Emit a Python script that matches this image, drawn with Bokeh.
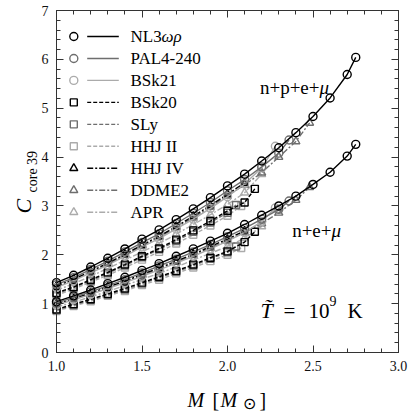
from math import pi
from bokeh.plotting import figure
from bokeh.models import (Range1d, SingleIntervalTicker, LinearAxis, PrintfTickFormatter,
                          Label, CustomJSTickFormatter)
from bokeh.embed import file_html
from bokeh.resources import INLINE

# ---------------- data ----------------
eos_names = ["NL3ωρ", "PAL4-240", "BSk21", "BSk20", "SLy", "HHJ II", "HHJ IV", "DDME2", "APR"]

mass_nl3 = [1.0, 1.1, 1.2, 1.3, 1.4, 1.5, 1.6, 1.7, 1.8, 1.9, 2.0, 2.1, 2.2, 2.3, 2.4, 2.5, 2.6, 2.7, 2.75]
mass_pal4 = [1.0, 1.1, 1.2, 1.3, 1.4, 1.5, 1.6, 1.7, 1.8, 1.9, 2.0, 2.1, 2.2, 2.3, 2.36]
mass_bsk21 = [1.0, 1.1, 1.2, 1.3, 1.4, 1.5, 1.6, 1.7, 1.8, 1.9, 2.0, 2.1, 2.2, 2.28]
mass_bsk20 = [1.0, 1.1, 1.2, 1.3, 1.4, 1.5, 1.6, 1.7, 1.8, 1.9, 2.0, 2.1, 2.16]
mass_sly = [1.0, 1.1, 1.2, 1.3, 1.4, 1.5, 1.6, 1.7, 1.8, 1.9, 2.0, 2.05]
mass_hhj2 = [1.0, 1.1, 1.2, 1.3, 1.4, 1.5, 1.6, 1.7, 1.8, 1.9, 2.0, 2.08]
mass_hhj4 = [1.0, 1.1, 1.2, 1.3, 1.4, 1.5, 1.6, 1.7, 1.8, 1.9, 2.0, 2.1]
mass_ddme2 = [1.0, 1.1, 1.2, 1.3, 1.4, 1.5, 1.6, 1.7, 1.8, 1.9, 2.0, 2.1, 2.2, 2.3, 2.4, 2.48]
mass_apr = [1.0, 1.1, 1.2, 1.3, 1.4, 1.5, 1.6, 1.7, 1.8, 1.9, 2.0, 2.1, 2.2]

# C_core39 for n+p+e+mu
c_npemu_nl3 = [1.43, 1.58, 1.75, 1.93, 2.12, 2.32, 2.51, 2.72, 2.94, 3.17, 3.41, 3.65, 3.92, 4.19, 4.50, 4.83, 5.21, 5.69, 6.04]
c_npemu_pal4 = [1.39, 1.53, 1.70, 1.87, 2.06, 2.25, 2.43, 2.64, 2.85, 3.07, 3.31, 3.54, 3.80, 4.08, 4.35]
c_npemu_bsk21 = [1.33, 1.47, 1.63, 1.79, 1.97, 2.16, 2.33, 2.53, 2.73, 2.95, 3.19, 3.45, 3.78, 4.22]
c_npemu_bsk20 = [1.22, 1.34, 1.49, 1.64, 1.80, 1.97, 2.13, 2.31, 2.50, 2.69, 2.90, 3.07, 3.35]
c_npemu_sly = [1.20, 1.33, 1.47, 1.62, 1.78, 1.95, 2.11, 2.28, 2.47, 2.66, 2.86, 3.02]
c_npemu_hhj2 = [1.17, 1.30, 1.44, 1.58, 1.74, 1.90, 2.06, 2.23, 2.41, 2.60, 2.80, 3.00]
c_npemu_hhj4 = [1.36, 1.50, 1.66, 1.83, 2.01, 2.20, 2.38, 2.58, 2.79, 3.01, 3.24, 3.47]
c_npemu_ddme2 = [1.34, 1.49, 1.65, 1.81, 1.99, 2.18, 2.36, 2.56, 2.76, 2.98, 3.21, 3.43, 3.68, 4.00, 4.32, 4.70]
c_npemu_apr = [1.27, 1.41, 1.56, 1.72, 1.89, 2.06, 2.23, 2.42, 2.62, 2.82, 3.03, 3.27, 3.65]

# C_core39 for n+e+mu
c_nemu_nl3 = [1.04, 1.16, 1.28, 1.41, 1.54, 1.68, 1.82, 1.97, 2.12, 2.28, 2.44, 2.62, 2.81, 3.00, 3.20, 3.44, 3.69, 4.02, 4.26]
c_nemu_pal4 = [1.01, 1.13, 1.24, 1.37, 1.49, 1.63, 1.77, 1.91, 2.06, 2.21, 2.37, 2.54, 2.73, 2.93, 3.10]
c_nemu_bsk21 = [0.97, 1.08, 1.19, 1.31, 1.43, 1.56, 1.69, 1.83, 1.97, 2.12, 2.28, 2.46, 2.68, 2.96]
c_nemu_bsk20 = [0.88, 0.99, 1.09, 1.20, 1.31, 1.43, 1.55, 1.67, 1.80, 1.94, 2.07, 2.26, 2.47]
c_nemu_sly = [0.87, 0.97, 1.08, 1.18, 1.29, 1.41, 1.53, 1.65, 1.78, 1.92, 2.05, 2.17]
c_nemu_hhj2 = [0.85, 0.95, 1.05, 1.16, 1.26, 1.38, 1.49, 1.62, 1.74, 1.87, 2.00, 2.14]
c_nemu_hhj4 = [0.99, 1.10, 1.22, 1.34, 1.46, 1.60, 1.73, 1.87, 2.01, 2.17, 2.32, 2.49]
c_nemu_ddme2 = [0.98, 1.09, 1.20, 1.33, 1.45, 1.58, 1.71, 1.85, 1.99, 2.14, 2.29, 2.46, 2.64, 2.86, 3.12, 3.38]
c_nemu_apr = [0.93, 1.03, 1.14, 1.25, 1.37, 1.50, 1.62, 1.75, 1.89, 2.03, 2.17, 2.34, 2.58]

x_min, x_max, x_tick_step = 1.0, 3.0, 0.5
y_min, y_max, y_tick_step = 0, 7, 1

# ---------------- layout (pixels inside the canvas) ----------------
W = H = 414
FL, FR, FT, FB = 56, 398, 10, 352      # axes box edges in canvas pixels (top-down y)
sx = (x_max - x_min) / (FR - FL)
sy = (y_max - y_min) / (FB - FT)
x_range = Range1d(x_min - FL * sx, x_max + (W - FR) * sx)
y_range = Range1d(y_min - (H - FB) * sy, y_max + FT * sy)

BLACK, GRAY, LIGHT = "#000000", "#6e6e6e", "#ababab"
SOLID, DASH, DASHDOT = "solid", "4 2", "6 2 2 2"
SERIF = "Liberation Serif"
AXC = "#333333"

series = [
    (mass_nl3, c_npemu_nl3, c_nemu_nl3, "circle", BLACK, SOLID),
    (mass_pal4, c_npemu_pal4, c_nemu_pal4, "circle", GRAY, SOLID),
    (mass_bsk21, c_npemu_bsk21, c_nemu_bsk21, "circle", LIGHT, SOLID),
    (mass_bsk20, c_npemu_bsk20, c_nemu_bsk20, "square", BLACK, DASH),
    (mass_sly, c_npemu_sly, c_nemu_sly, "square", GRAY, DASH),
    (mass_hhj2, c_npemu_hhj2, c_nemu_hhj2, "square", LIGHT, DASH),
    (mass_hhj4, c_npemu_hhj4, c_nemu_hhj4, "triangle", BLACK, DASHDOT),
    (mass_ddme2, c_npemu_ddme2, c_nemu_ddme2, "triangle", GRAY, DASHDOT),
    (mass_apr, c_npemu_apr, c_nemu_apr, "triangle", LIGHT, DASHDOT),
]
msize = {"circle": 8, "square": 7, "triangle": 8}

p = figure(width=W, height=H, x_range=x_range, y_range=y_range,
           output_backend="svg", toolbar_location=None,
           min_border=0, x_axis_location=None, y_axis_location=None,
           background_fill_color="white", border_fill_color="white")
p.grid.visible = False
p.outline_line_color = None
# pixel helper ranges: fx = X - FL, fy = FB - Y (Y top-down canvas px)
p.extra_x_ranges = {"px": Range1d(-FL, W - FL)}
p.extra_y_ranges = {"py": Range1d(FB - H, FB)}

def make_axis(loc, fixed, bounds, step, fmt):
    ax = LinearAxis(fixed_location=fixed, bounds=bounds,
                    ticker=SingleIntervalTicker(interval=step, num_minor_ticks=5),
                    formatter=fmt,
                    major_tick_in=7, major_tick_out=0, minor_tick_in=4, minor_tick_out=0,
                    axis_line_color=AXC, major_tick_line_color=AXC, minor_tick_line_color=AXC,
                    major_label_text_font=SERIF, major_label_text_font_size="14px",
                    major_label_text_color="#111111", major_label_standoff=8)
    p.add_layout(ax, loc)
    return ax

blank = CustomJSTickFormatter(code="return ''")
make_axis("below", y_min, (x_min, x_max), x_tick_step, PrintfTickFormatter(format="%.1f"))
make_axis("left", x_min, (y_min, y_max), y_tick_step, PrintfTickFormatter(format="%d"))
make_axis("above", y_max, (x_min, x_max), x_tick_step, blank)
make_axis("right", x_max, (y_min, y_max), y_tick_step, blank)

# ---------------- curves ----------------
for m, cu, cl, mk, col, dash in reversed(series):
    for c in (cu, cl):
        p.line(m, c, line_color=col, line_width=1.4, line_dash=dash)
        p.scatter(m, c, marker=mk, size=msize[mk], line_color=col, line_width=1.4, fill_alpha=0)

def lab(x, y, text, size, italic=False, align="left", baseline="alphabetic", angle=0):
    p.add_layout(Label(x=x, y=y, text=text, x_range_name="px", y_range_name="py",
                       text_font=SERIF, text_font_size=size, text_align=align,
                       text_baseline=baseline, angle=angle, text_color="black",
                       text_font_style="italic" if italic else "normal"))

# ---------------- legend (custom, pixel coordinates) ----------------
leg_y0, leg_dy = 316, 21.96
for i, ((m, cu, cl, mk, col, dash), name) in enumerate(zip(series, eos_names)):
    fy = leg_y0 - i * leg_dy
    p.scatter([17.3], [fy], marker=mk, size=msize[mk], line_color=col, line_width=1.4,
              fill_alpha=0, x_range_name="px", y_range_name="py")
    p.line([30.7, 62.3], [fy, fy], line_color=col, line_width=1.4, line_dash=dash,
           x_range_name="px", y_range_name="py")
    if name == "NL3ωρ":
        lab(74, fy, "NL3", "17px", baseline="middle")
        lab(105, fy, "ωρ", "17px", italic=True, baseline="middle")
    else:
        lab(74, fy, name, "17px", baseline="middle")

# group annotations
lab(263, 265, "n+p+e+", "19px", align="right")
lab(263, 265, "μ", "19px", italic=True)
lab(275, 122, "n+e+", "19px", align="right")
lab(275, 122, "μ", "19px", italic=True)

# temperature annotation
lab(204, 42, "T\u0303", "22px", italic=True)
lab(227, 42, "=", "21px")
lab(252, 42, "10", "21px")
lab(273, 52, "9", "14px")
lab(291, 42, "K", "21px")

# axis titles
lab(131, -47, "M", "20px", italic=True)
lab(156, -47, "[", "20px")
lab(164, -47, "M", "20px", italic=True)
lab(186, -51, "⊙", "16px")
lab(203, -47, "]", "20px")

lab(-33, 139, "C", "22px", italic=True, angle=pi / 2)
lab(-24, 160, "core 39", "14px", angle=pi / 2)

open("out.html", "w").write(file_html(p, INLINE))
